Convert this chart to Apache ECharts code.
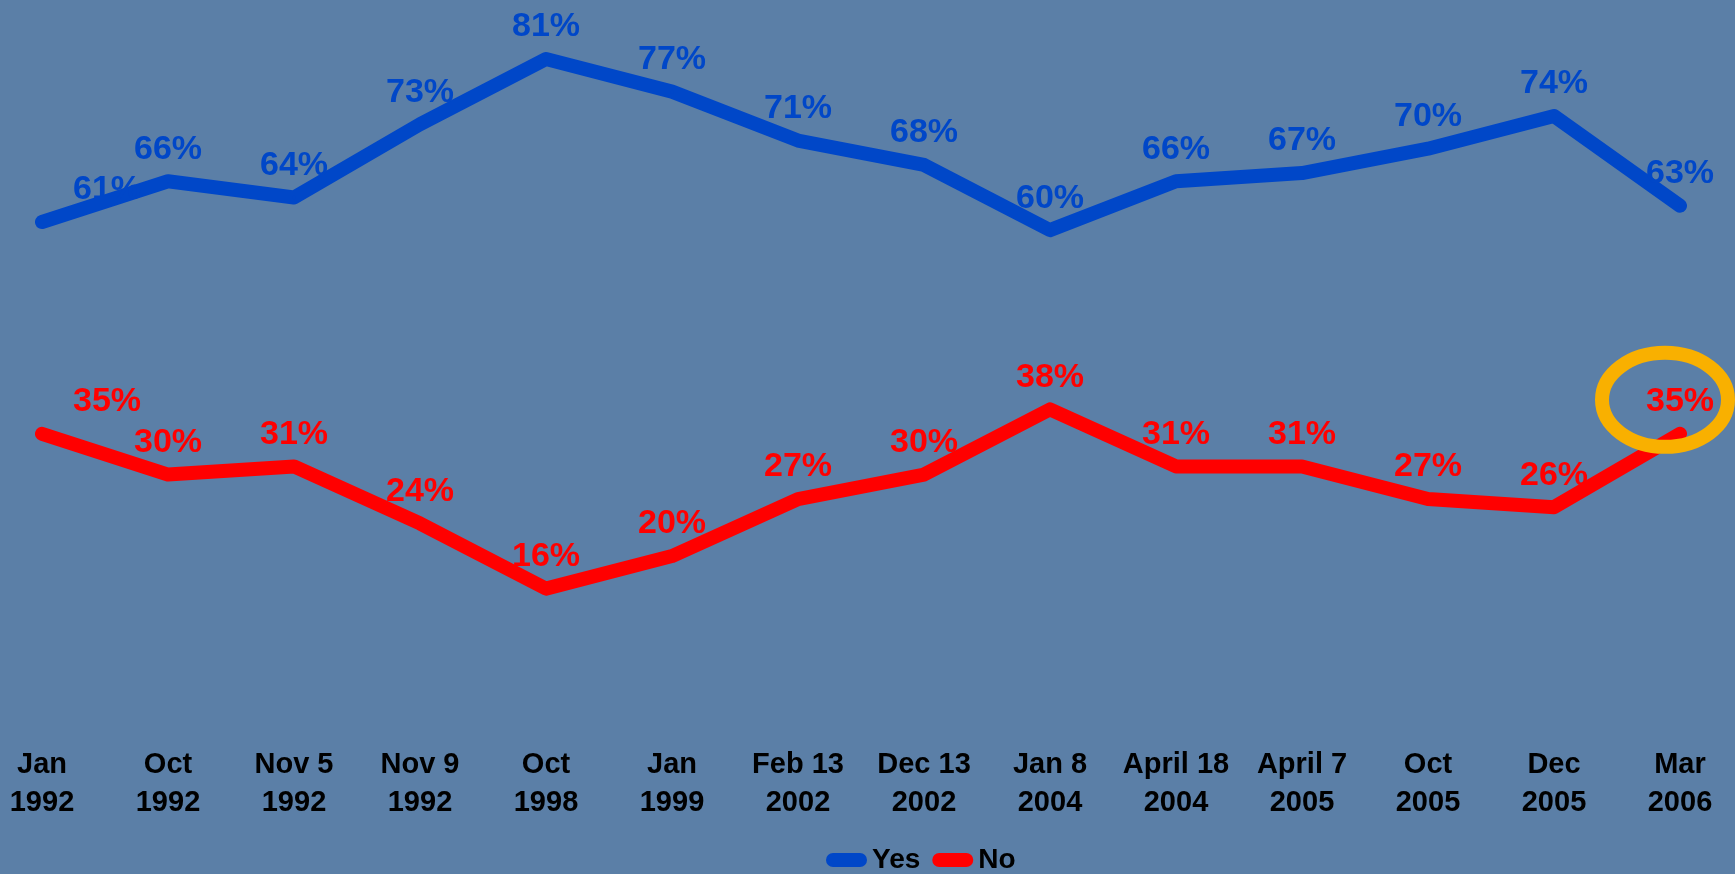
<!DOCTYPE html>
<html>
<head>
<meta charset="utf-8">
<script src="https://cdn.jsdelivr.net/npm/echarts@6/dist/echarts.min.js"></script>
<style>
  html, body { margin: 0; padding: 0; background: #5b7fa7; }
  #chart { width: 1735px; height: 874px; }
</style>
</head>
<body>
<div id="chart"></div>
<script>
// Poll dates (two-line axis labels)
const categories = [
  'Jan\n1992', 'Oct\n1992', 'Nov 5\n1992', 'Nov 9\n1992', 'Oct\n1998', 'Jan\n1999',
  'Feb 13\n2002', 'Dec 13\n2002', 'Jan 8\n2004', 'April 18\n2004', 'April 7\n2005',
  'Oct\n2005', 'Dec\n2005', 'Mar\n2006'
];
// Share answering "Yes" / "No", in percent
const yesValues = [61, 66, 64, 73, 81, 77, 71, 68, 60, 66, 67, 70, 74, 63];
const noValues  = [35, 30, 31, 24, 16, 20, 27, 30, 38, 31, 31, 27, 26, 35];

const BLUE = '#0047c8';
const RED = '#ff0000';
const FONT = 'Liberation Sans, Arial, sans-serif';

function lineSeries(name, values, color) {
  return {
    name: name,
    type: 'line',
    data: values,
    showSymbol: true,
    symbol: 'circle',
    symbolSize: 4,
    lineStyle: { color: color, width: 14, cap: 'round', join: 'round' },
    itemStyle: { color: color },
    label: {
      show: true,
      position: 'top',
      distance: 13,
      formatter: '{c}%',
      color: color,
      fontFamily: FONT,
      fontWeight: 'bold',
      fontSize: 34
    },
    // the first label is nudged right of its point
    labelLayout: function (params) {
      return params.dataIndex === 0 ? { dx: 65, hideOverlap: false } : { hideOverlap: false };
    },
    emphasis: { disabled: true },
    animation: false
  };
}

const chart = echarts.init(document.getElementById('chart'), null, { renderer: 'canvas' });

const pill = 'path://M7,0 H34 A7,7 0 0 1 34,14 H7 A7,7 0 0 1 7,0 Z';

chart.setOption({
  backgroundColor: '#5b7fa7',
  animation: false,
  grid: { left: 42, right: 55, top: 2, bottom: 155, containLabel: false },
  xAxis: {
    type: 'category',
    data: categories,
    boundaryGap: false,
    axisLine: { show: false },
    axisTick: { show: false },
    splitLine: { show: false },
    axisLabel: {
      interval: 0,
      margin: 27,
      color: '#000',
      fontFamily: FONT,
      fontWeight: 'bold',
      fontSize: 29,
      lineHeight: 38
    }
  },
  yAxis: {
    type: 'value',
    min: 0,
    max: 88,
    show: false
  },
  legend: {
    left: 826,
    top: 846,
    padding: 0,
    itemWidth: 41,
    itemHeight: 15,
    itemGap: 12,
    data: [{ name: 'Yes', icon: pill }, { name: 'No', icon: pill }],
    textStyle: { color: '#000', fontFamily: FONT, fontWeight: 'bold', fontSize: 28 }
  },
  series: [
    lineSeries('Yes', yesValues, BLUE),
    lineSeries('No', noValues, RED)
  ]
});

// Highlight ring around the latest "No" reading
const lastIdx = noValues.length - 1;
const p = chart.convertToPixel({ seriesIndex: 1 }, [lastIdx, noValues[lastIdx]]);
chart.setOption({
  graphic: [{
    type: 'ellipse',
    shape: { cx: p[0] - 15, cy: p[1] - 34, rx: 63, ry: 47 },
    style: { fill: 'none', stroke: '#f9b000', lineWidth: 14 },
    z: 100
  }]
});
</script>
</body>
</html>
